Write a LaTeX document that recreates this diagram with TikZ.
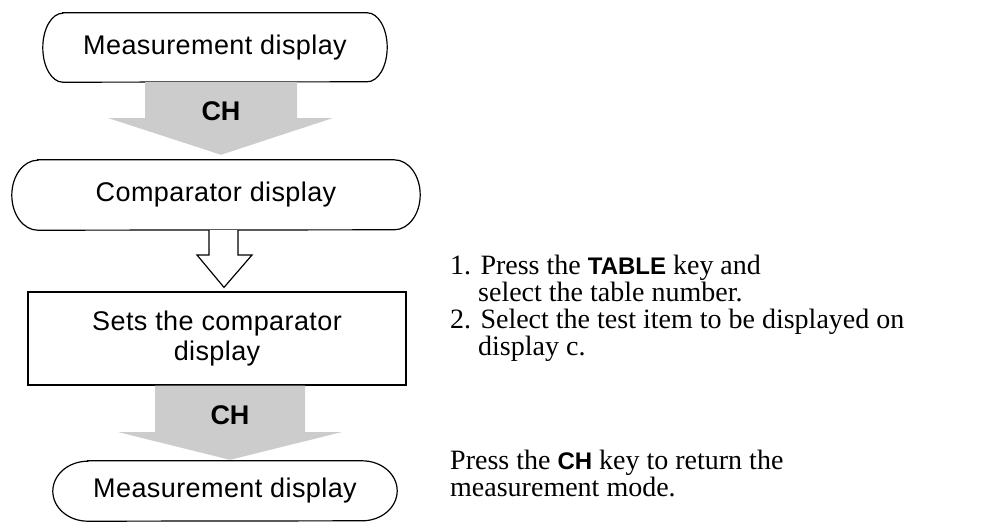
\documentclass[tikz,border=0pt]{standalone}
\usepackage{fontspec}
\setmainfont{Liberation Serif}
\newfontfamily\boxfont{Liberation Sans}[LetterSpace=1.5]
\newfontfamily\keyfont{Liberation Sans}
\usetikzlibrary{calc}
\newcommand\stadium[3]{% node, x radius, y radius
  \draw[termline] ([xshift=#2pt]#1.north west) -- ([xshift=-#2pt]#1.north east)
    arc[start angle=90,end angle=-90,x radius=#2pt,y radius=#3pt]
    -- ([xshift=#2pt]#1.south west)
    arc[start angle=270,end angle=90,x radius=#2pt,y radius=#3pt] -- cycle;}
\tikzset{
  termline/.style={draw=black,line width=1.2pt},
  boxtext/.style={font=\boxfont\fontsize{27}{30}\selectfont,inner sep=0pt,align=center},
  chlabel/.style={font=\keyfont\bfseries\fontsize{27}{30}\selectfont,inner sep=0pt},
  chfill/.style={fill=black!20,draw=none},
  hollow/.style={draw=black,line width=1.2pt,fill=white,line join=miter},
  rtext/.style={font=\fontsize{28}{28}\selectfont,inner sep=0pt,anchor=base west},
}
\newcommand\kbd[1]{{\keyfont\bfseries\fontsize{24}{28}\selectfont #1}}
\begin{document}
\begin{tikzpicture}[x=1pt,y=-1pt]
\useasboundingbox (0,0) rectangle (993,522);
\fill[white] (0,0) rectangle (993,522);
% terminals and box
\node[boxtext,minimum width=344pt,minimum height=69pt] (t1) at (215,47.5) {Measurement display};
\stadium{t1}{20}{34.5}
\node[boxtext,minimum width=408pt,minimum height=70pt] (t2) at (216,195) {Comparator display};
\stadium{t2}{26}{35}
\node[boxtext,draw,line width=1.2pt,minimum width=378pt,minimum height=93pt] (b1) at (217,338.5) {Sets the comparator\\display};
\node[boxtext,minimum width=344pt,minimum height=60pt] (t3) at (225,491) {Measurement display};
\stadium{t3}{35}{30}
% gray arrow 1
\coordinate (a1s) at (221,0 |- t1.south);
\coordinate (a1t) at ([yshift=5pt]221,0 |- t2.north);
\fill[chfill] ([xshift=-76pt]a1s) -- ([xshift=76pt]a1s) -- ([xshift=76pt]a1s |- 0,118)
  -- ([xshift=112pt]a1s |- 0,118) -- (a1t) -- ([xshift=-113pt]a1s |- 0,118)
  -- ([xshift=-76pt]a1s |- 0,118) -- cycle;
\node[chlabel] (ch1) at (221,111) {CH};
% hollow arrow
\coordinate (a2s) at (224,0 |- t2.south);
\coordinate (a2t) at (224,0 |- b1.north);
\draw[hollow] ([xshift=-15pt]a2s) -- ([xshift=-15pt]a2s |- 0,255) -- ([xshift=-27pt]a2s |- 0,255)
  -- ([yshift=4pt]a2t) -- ([xshift=28pt]a2s |- 0,255) -- ([xshift=14pt]a2s |- 0,255) -- ([xshift=14pt]a2s);
% gray arrow 2
\coordinate (a3s) at (230,0 |- b1.south);
\coordinate (a3t) at ([yshift=1pt]230,0 |- t3.north);
\fill[chfill] ([xshift=-75pt]a3s) -- ([xshift=75pt]a3s) -- ([xshift=75pt]a3s |- 0,432)
  -- ([xshift=112pt]a3s |- 0,432) -- (a3t) -- ([xshift=-112pt]a3s |- 0,432)
  -- ([xshift=-75pt]a3s |- 0,432) -- cycle;
\node[chlabel] (ch2) at (230,415) {CH};
% right texts
\node[rtext] (l1) at (450,274) {1. Press the \kbd{TABLE} key and};
\node[rtext] (l2) at (450,301) {\hphantom{1.\ }select the table number.};
\node[rtext] (l3) at (450,328) {2. Select the test item to be displayed on};
\node[rtext] (l4) at (450,355) {\hphantom{2.\ }display c.};
\node[rtext] (l5) at (450,469) {Press the \kbd{CH} key to return the};
\node[rtext] (l6) at (450,496) {measurement mode.};
\end{tikzpicture}
\end{document}
